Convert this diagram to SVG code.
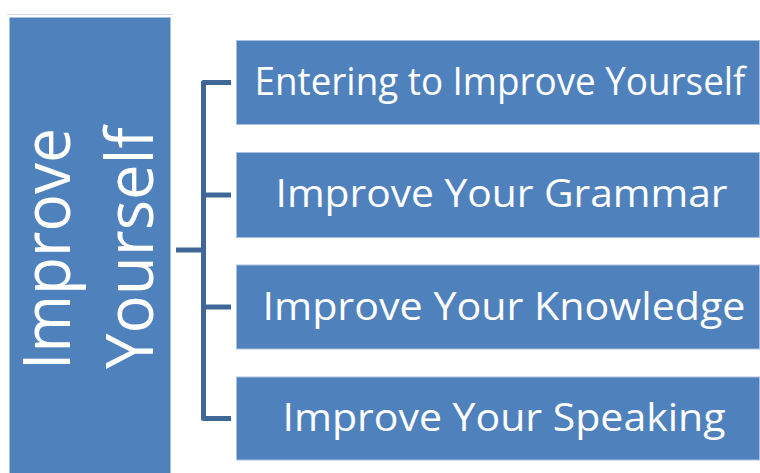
<svg xmlns="http://www.w3.org/2000/svg" width="760" height="473" viewBox="0 0 760 473">
<style>
.box{fill:#4f81bd;stroke:#a9c1e0;stroke-width:1}
.lbl{fill:#ffffff;font-family:"Open Sans","Noto Sans","DejaVu Sans",sans-serif;font-size:38px;text-anchor:middle}
.big{fill:#ffffff;font-family:"Open Sans","Noto Sans","DejaVu Sans",sans-serif;font-size:66px;text-anchor:middle}
.conn{fill:none;stroke:#3e6798;stroke-width:5;stroke-linejoin:round}
</style>
<rect x="0" y="0" width="760" height="473" fill="#ffffff"/>
<line x1="7" y1="14.5" x2="173" y2="14.5" stroke="#ccdaec" stroke-width="1"/>
<g id="root">
<rect class="box" x="9.5" y="17.5" width="161" height="460"/>
<text class="big" transform="translate(70,249) rotate(-90)" textLength="242" lengthAdjust="spacingAndGlyphs">Improve</text>
<text class="big" transform="translate(153,248) rotate(-90)" textLength="242" lengthAdjust="spacingAndGlyphs">Yourself</text>
</g>
<g id="connectors">
<path class="conn" d="M231,82.5 H203.5 V418.5 H231"/>
<path class="conn" d="M203.5,195 H231"/>
<path class="conn" d="M203.5,307 H231"/>
<path class="conn" d="M176,250 H203.5"/>
</g>
<g id="n1">
<rect class="box" x="236.5" y="40.5" width="523" height="84"/>
<text class="lbl" x="500" y="95" textLength="491" lengthAdjust="spacingAndGlyphs">Entering to Improve Yourself</text>
</g>
<g id="n2">
<rect class="box" x="236.5" y="152.5" width="523" height="85"/>
<text class="lbl" x="501.5" y="207" textLength="452" lengthAdjust="spacingAndGlyphs">Improve Your Grammar</text>
</g>
<g id="n3">
<rect class="box" x="236.5" y="265" width="523" height="84"/>
<text class="lbl" x="504" y="320" textLength="483" lengthAdjust="spacingAndGlyphs">Improve Your Knowledge</text>
</g>
<g id="n4">
<rect class="box" x="236.5" y="377" width="523" height="83"/>
<text class="lbl" x="504" y="431" textLength="443" lengthAdjust="spacingAndGlyphs">Improve Your Speaking</text>
</g>
</svg>
